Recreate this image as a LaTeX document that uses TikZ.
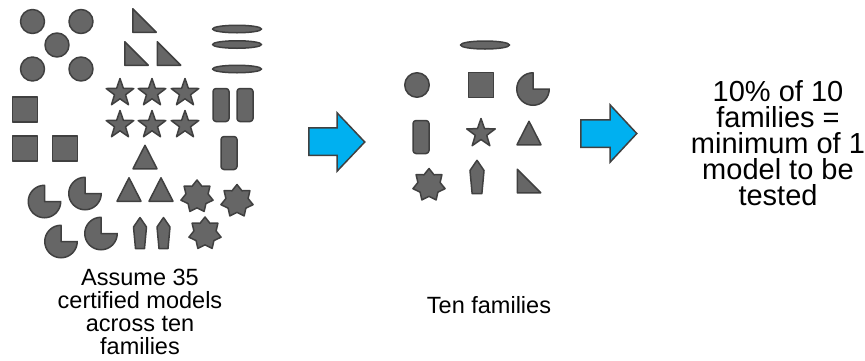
\documentclass[tikz,border=0pt]{standalone}
\usepackage{fontspec}
\setmainfont{Liberation Sans}
\usetikzlibrary{shapes.geometric}
\definecolor{shapefill}{HTML}{666666}
\definecolor{shapeline}{HTML}{404040}
\definecolor{arrowblue}{HTML}{00B0F0}
\begin{document}
\begin{tikzpicture}[x=1pt,y=-1pt,
  shp/.style={fill=shapefill,draw=shapeline,line width=1.5pt,line join=round},
  circ/.style={shp,circle,minimum size=24pt,inner sep=0pt},
  sq/.style={shp,rectangle,minimum size=25pt,inner sep=0pt},
  pill/.style={shp,rectangle,rounded corners=3pt,minimum width=16pt,minimum height=33pt,inner sep=0pt},
  flat/.style={shp,ellipse,minimum width=49pt,minimum height=7.5pt,inner sep=0pt},
  starfive/.style={shp,star,star points=5,star point ratio=2.5,minimum size=29pt,inner sep=0pt},
  starseven/.style={shp,star,star points=7,star point ratio=1.45,minimum size=33pt,inner sep=0pt},
  bigarrow/.style={fill=arrowblue,draw=shapeline,line width=1.5pt,line join=miter},
  txt/.style={align=center,inner sep=0pt,text=black},
  pie/.pic={\path[shp] (0,0) -- (16.25,0) arc[start angle=0,end angle=270,radius=16.25] -- cycle;},
  rtri/.pic={\path[shp] (-11.75,-11.75) -- (-11.75,11.75) -- (11.75,11.75) -- cycle;},
  itri/.pic={\path[shp] (0,-11.75) -- (12,11.75) -- (-12,11.75) -- cycle;},
  pent/.pic={\path[shp] (0,-15.5) -- (6.5,-6) -- (4.5,15.5) -- (-4.5,15.5) -- (-6.5,-6) -- cycle;}]
\useasboundingbox (0,0) rectangle (865,360);

% ---------- left group: 35 models ----------
\node[circ] (c1) at (32.5,21.5) {};
\node[circ] (c2) at (81,21.5) {};
\node[circ] (c3) at (57,45) {};
\node[circ] (c4) at (32.5,69) {};
\node[circ] (c5) at (81,69) {};

\pic at (144.5,20.5) {rtri};
\pic at (136.5,53.5) {rtri};
\pic at (169,53.5) {rtri};

\node[flat] (e1) at (237,29) {};
\node[flat] (e2) at (237,44.5) {};
\node[flat] (e3) at (237,69) {};

\node[sq] (s1) at (25,109.5) {};
\node[sq] (s2) at (25,148.5) {};
\node[sq] (s3) at (65,148.5) {};

\node[starfive] (st1) at (120,93) {};
\node[starfive] (st2) at (152,93) {};
\node[starfive] (st3) at (185,93) {};
\node[starfive] (st4) at (120,125) {};
\node[starfive] (st5) at (152,125) {};
\node[starfive] (st6) at (185,125) {};

\node[pill] (r1) at (221,105) {};
\node[pill] (r2) at (245,105) {};
\node[pill] (r3) at (229,153) {};

\pic at (145,157) {itri};
\pic at (129,189.5) {itri};
\pic at (161,189.5) {itri};

\pic at (44.5,201.5) {pie};
\pic at (85,193.5) {pie};
\pic at (61,241.5) {pie};
\pic at (101,233.5) {pie};

\pic at (140,233) {pent};
\pic at (163.5,233) {pent};

\node[starseven] (sv1) at (197,196.5) {};
\node[starseven] (sv2) at (237,201) {};
\node[starseven] (sv3) at (205,233.5) {};

\node[txt,font=\fontsize{23.5}{23}\selectfont] (lefttxt) at (140,312)
  {Assume 35\\certified models\\across ten\\families};

% ---------- first arrow ----------
\draw[bigarrow] (308.75,127.75) -- (337,127.75) -- (337,112.75) -- (364.75,142)
  -- (337,171.25) -- (337,155.25) -- (308.75,155.25) -- cycle;

% ---------- middle group: ten families ----------
\node[flat,minimum height=8pt] (me) at (485,45) {};
\node[circ,minimum size=24.5pt] (mc) at (417,85) {};
\node[sq] (ms) at (481,85) {};
\pic at (533,89) {pie};
\node[pill] (mr) at (421,137) {};
\node[starfive,minimum size=30pt] (mst) at (481,133.5) {};
\pic at (529,133) {itri};
\node[starseven] (msv) at (429,185) {};
\pic[scale=1.08] at (477,177) {pent};
\pic at (529,181) {rtri};

\node[txt,font=\fontsize{23.5}{23}\selectfont,anchor=base] (midtxt) at (489,313) {Ten families};

% ---------- second arrow ----------
\draw[bigarrow] (580.75,119.75) -- (610,119.75) -- (610,104.75) -- (636.75,133.5)
  -- (610,162.25) -- (610,147.25) -- (580.75,147.25) -- cycle;

% ---------- result text ----------
\node[txt,font=\fontsize{29}{26}\selectfont] (righttxt) at (778,143.5)
  {10\% of 10\\families =\\minimum of 1\\model to be\\tested};
\end{tikzpicture}
\end{document}
